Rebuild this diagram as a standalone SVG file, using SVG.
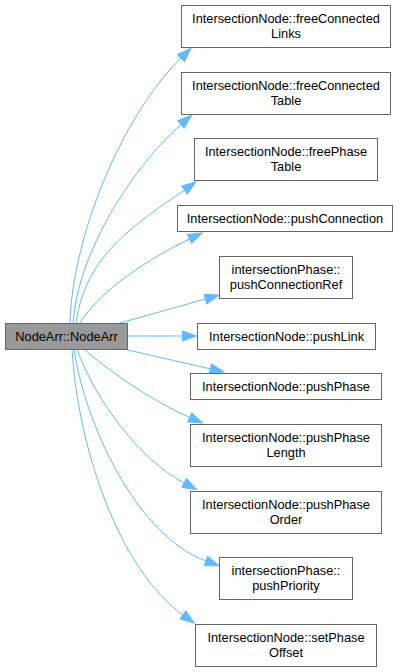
<svg xmlns="http://www.w3.org/2000/svg" width="401" height="672" viewBox="0 0 401 672">
<style>
.node rect{fill:#ffffff;stroke:#666666;stroke-width:1}
#n7 rect{fill:#999999}
.node text{font-family:"Liberation Sans",Arial,sans-serif;font-size:12.8px;fill:#000000;text-anchor:middle}
.edge{fill:none;stroke:#63b8ff;stroke-width:1;marker-end:url(#arr)}
</style>
<defs>
<marker id="arr" markerUnits="userSpaceOnUse" orient="auto" refX="0" refY="5" markerWidth="15" markerHeight="10" overflow="visible">
<path d="M0,0 L14,5 L0,10 Z" fill="#63b8ff" stroke="#63b8ff" stroke-width="1"/>
</marker>
</defs>
<rect width="401" height="672" fill="#ffffff"/>
<g id="edges">
<path class="edge" d="M70,323 C72,240 120,118 181,58"/>
<path class="edge" d="M73,323 C78,250 135,165 181,124.5"/>
<path class="edge" d="M76,323 C85,255 136,224 184.5,190"/>
<path class="edge" d="M80,323 C100,290 150,258 189.5,239"/>
<path class="edge" d="M120,323 L205.5,299"/>
<path class="edge" d="M128,336 L182.5,336"/>
<path class="edge" d="M128,350 L210.4,368.9"/>
<path class="edge" d="M84,349 C105,368 150,400 189.7,417.4"/>
<path class="edge" d="M77,349 C95,400 140,460 184.2,483"/>
<path class="edge" d="M74,349 C84,420 135,535 206,561"/>
<path class="edge" d="M72,349 C78,450 120,570 183,615"/>
</g>
<g id="n1" class="node"><rect x="181.5" y="5.5" width="209" height="42"/><text x="286" y="23">IntersectionNode::freeConnected</text><text x="286" y="38">Links</text></g>
<g id="n2" class="node"><rect x="181.5" y="72.5" width="209" height="42"/><text x="286" y="90">IntersectionNode::freeConnected</text><text x="286" y="105">Table</text></g>
<g id="n3" class="node"><rect x="194.5" y="138.5" width="183" height="42"/><text x="286" y="156">IntersectionNode::freePhase</text><text x="286" y="171">Table</text></g>
<g id="n4" class="node"><rect x="177.5" y="205.5" width="215" height="26"/><text x="285" y="223">IntersectionNode::pushConnection</text></g>
<g id="n5" class="node"><rect x="219.5" y="256.5" width="133" height="42"/><text x="286" y="274">intersectionPhase::</text><text x="286" y="289">pushConnectionRef</text></g>
<g id="n6" class="node"><rect x="197.5" y="323.5" width="178" height="26"/><text x="286.5" y="341">IntersectionNode::pushLink</text></g>
<g id="n7" class="node"><rect x="5.5" y="323.5" width="122" height="26"/><text x="66.5" y="341">NodeArr::NodeArr</text></g>
<g id="n8" class="node"><rect x="190.5" y="373.5" width="191" height="26"/><text x="286" y="391">IntersectionNode::pushPhase</text></g>
<g id="n9" class="node"><rect x="190.5" y="424.5" width="191" height="42"/><text x="286" y="442">IntersectionNode::pushPhase</text><text x="286" y="457">Length</text></g>
<g id="n10" class="node"><rect x="190.5" y="491.5" width="191" height="42"/><text x="286" y="509">IntersectionNode::pushPhase</text><text x="286" y="524">Order</text></g>
<g id="n11" class="node"><rect x="219.5" y="557.5" width="133" height="42"/><text x="286" y="575">intersectionPhase::</text><text x="286" y="590">pushPriority</text></g>
<g id="n12" class="node"><rect x="195.5" y="624.5" width="181" height="42"/><text x="286" y="642">IntersectionNode::setPhase</text><text x="286" y="657">Offset</text></g>
</svg>
